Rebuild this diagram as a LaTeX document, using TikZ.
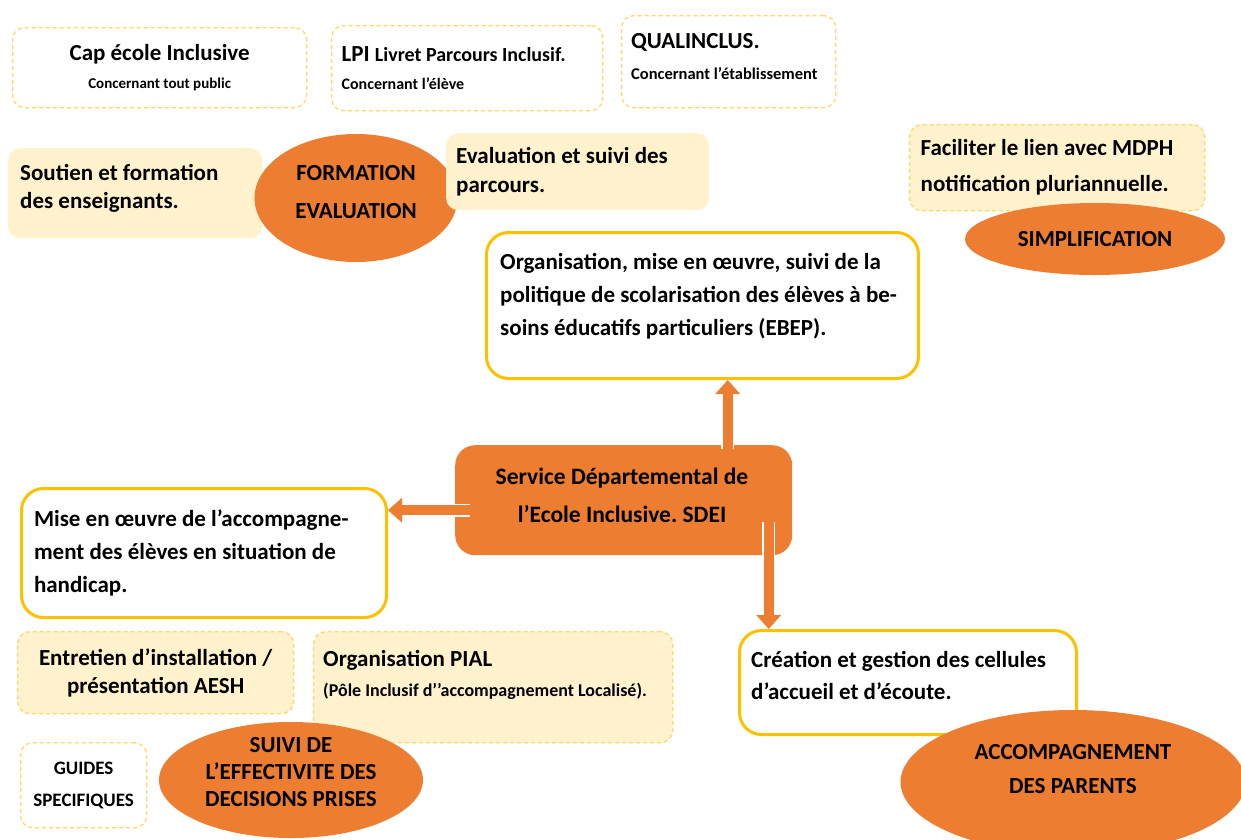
\documentclass[tikz,border=0pt]{standalone}
\usepackage{fontspec}
\setmainfont{Carlito}
\usetikzlibrary{shapes.geometric,arrows.meta,positioning}
\definecolor{sorange}{HTML}{ED7D31}
\definecolor{syellow}{HTML}{FFC000}
\definecolor{slight}{HTML}{FFF2CC}
\definecolor{sdash}{HTML}{FFD966}
\frenchspacing
\begin{document}
\begin{tikzpicture}[x=1pt,y=-1pt,
        every node/.style={font=\bfseries\fontsize{23}{33}\selectfont, inner sep=0pt},
        dbox/.style={draw=sdash, line width=1.3pt, dash pattern=on 4pt off 3pt, rounded corners=12pt, anchor=north west},
        lbox/.style={fill=slight, rounded corners=12pt, anchor=north west},
        ybox/.style={draw=syellow, fill=white, line width=3pt, rounded corners=22pt, anchor=north west},
        blob/.style={ellipse, fill=sorange},
        barrow/.style={sorange, line width=10pt, -{Triangle[width=24pt,length=14pt]},
            preaction={draw=white, line width=13pt, -{Triangle[width=29pt,length=17pt]}}}]
    \useasboundingbox (0,0) rectangle (1241,839);
    % top row
    \node[dbox, minimum width=294, minimum height=80, text width=270, align=flush center, font=\bfseries\fontsize{23}{28}\selectfont] (cap) at (12,27)
        {Cap école Inclusive\\{\fontsize{15}{20}\selectfont Concernant tout public}};
    \node[dbox, minimum width=271, minimum height=85, text width=251, align=flush left, font=\bfseries\fontsize{23}{28}\selectfont] (lpi) at (331,25)
        {LPI {\fontsize{20}{28}\selectfont Livret Parcours Inclusif.}\\{\fontsize{16}{20}\selectfont Concernant l’élève}};
    \node[dbox, minimum width=214, minimum height=92] (qual) at (621,15) {};
    \node[anchor=base west, text width=200, align=flush left, font=\bfseries\fontsize{23}{31}\selectfont] (qualt) at (631,48)
        {QUALINCLUS.\\{\fontsize{16.5}{20}\selectfont Concernant l’établissement}};
    % formation
    \node[lbox, minimum width=254, minimum height=90] (sout) at (8,148) {};
    \node[anchor=base west, text width=235, align=flush left, font=\bfseries\fontsize{23}{28}\selectfont] (soutt) at (20,180)
        {Soutien et formation\\des enseignants.};
    \node[blob, minimum width=203, minimum height=128] (form) at (356,198) {};
    \node[align=flush center, font=\bfseries\fontsize{23}{38}\selectfont] (formt) at (356,192) {FORMATION\\EVALUATION};
    \node[lbox, minimum width=263, minimum height=77, text width=243, align=flush left, font=\bfseries\fontsize{23}{29}\selectfont] (evalp) at (446,133)
        {Evaluation et suivi des\\parcours.};
    % simplification
    \node[dbox, fill=slight, minimum width=295, minimum height=86, text width=273, align=flush left, font=\bfseries\fontsize{23}{36}\selectfont] (facil) at (909,124)
        {Faciliter le lien avec MDPH\\notification pluriannuelle.};
    \node[blob, minimum width=260, minimum height=72] (simp) at (1095,239) {SIMPLIFICATION};
    % centre
    \node[ybox, minimum width=432, minimum height=146] (orga) at (485,231) {};
    \node[anchor=base west, text width=410, align=flush left] (orgat) at (500,269)
        {Organisation, mise en œuvre, suivi de la\\politique de scolarisation des élèves à be-\\soins éducatifs particuliers (EBEP).};
    \node[fill=sorange, rounded corners=20pt, anchor=north west, minimum width=337, minimum height=110] (sdei) at (455,445) {};
    \node[align=flush center, font=\bfseries\fontsize{23.5}{38}\selectfont] (sdeit) at (622,495)
        {Service Départemental de\\l’Ecole Inclusive. SDEI};
    \node[ybox, minimum width=365, minimum height=129, text width=340, align=flush left] (mise) at (20,487)
        {Mise en œuvre de l’accompagne-\\ment des élèves en situation de\\handicap.};
    \node[ybox, minimum width=337, minimum height=104] (crea) at (738,629) {};
    \node[anchor=base west, text width=315, align=flush left, font=\bfseries\fontsize{23}{32}\selectfont] (creat) at (751,667)
        {Création et gestion des cellules\\d’accueil et d’écoute.};
    \node[blob, minimum width=345, minimum height=144] (acc) at (1073,782) {};
    \node[align=flush center, font=\bfseries\fontsize{23}{34}\selectfont] (acct) at (1073,769) {ACCOMPAGNEMENT\\DES PARENTS};
    % arrows
    \draw[barrow] ([xshift=104pt,yshift=-4pt]sdei.north) -- ([xshift=104pt]sdei.north |- orga.south);
    \draw[barrow] ([xshift=15pt,yshift=-10pt]sdei.west) -- ([yshift=-10pt]sdei.west -| mise.east);
    \draw[barrow] ([xshift=145pt,yshift=33pt]sdei.south) -- ([xshift=145pt]sdei.south |- crea.north);
    % suivi
    \node[dbox, fill=slight, minimum width=276, minimum height=82, text width=265, align=flush center, font=\bfseries\fontsize{23}{28}\selectfont] (entr) at (17,631)
        {Entretien d’installation /\\présentation AESH};
    \node[dbox, fill=slight, minimum width=359, minimum height=111] (pial) at (313,631) {};
    \node[anchor=base west, text width=345, align=flush left] (pialt) at (323,666)
        {Organisation PIAL\\[-3pt]{\fontsize{18}{20}\selectfont (Pôle Inclusif d’’accompagnement Localisé).}};
    \node[blob, minimum width=264, minimum height=116] (suivi) at (291,780) {};
    \node[align=flush center, font=\bfseries\fontsize{23}{27}\selectfont] (suivit) at (291,772)
        {SUIVI DE\\L’EFFECTIVITE DES\\DECISIONS PRISES};
    \node[dbox, minimum width=126, minimum height=85, align=flush center, font=\bfseries\fontsize{19}{32}\selectfont] (guides) at (20,742)
        {GUIDES\\SPECIFIQUES};
\end{tikzpicture}
\end{document}
